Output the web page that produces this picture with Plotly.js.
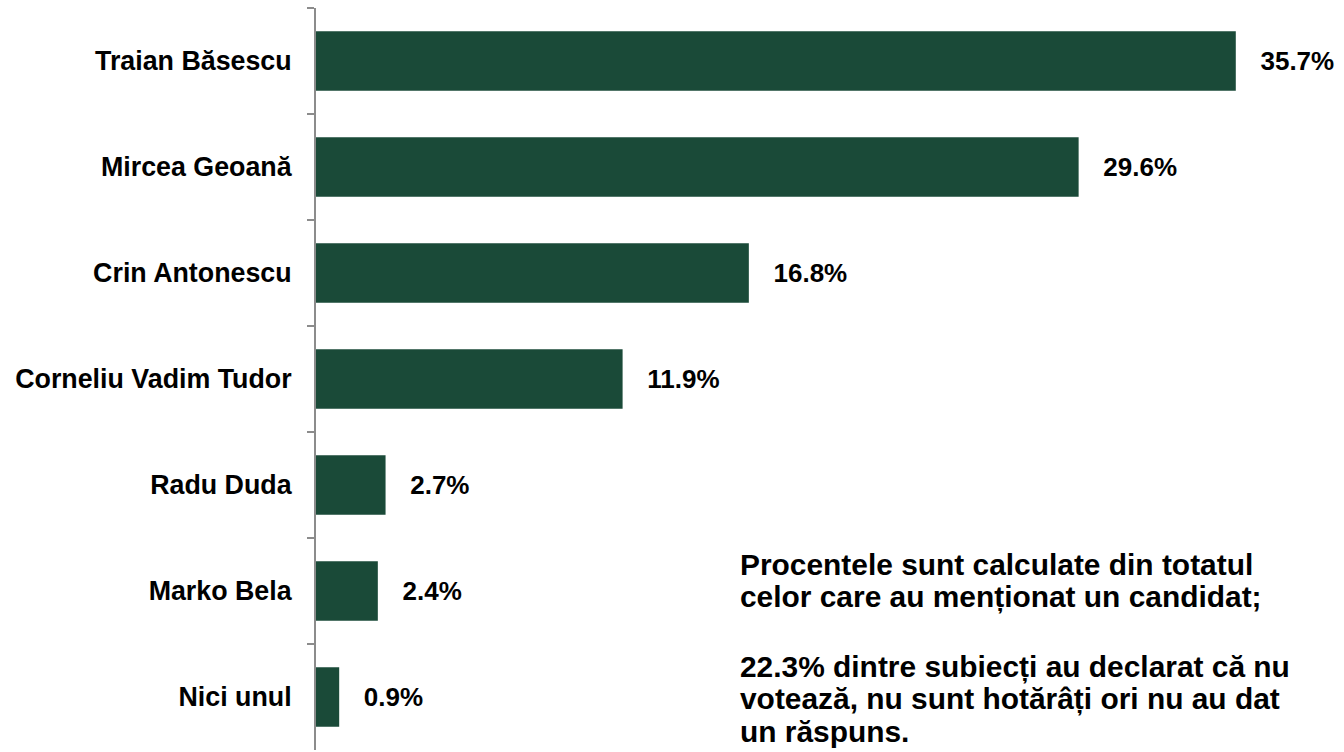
<!DOCTYPE html>
<html>
<head>
<meta charset="utf-8">
<script src="https://cdn.plot.ly/plotly-3.0.1.min.js"></script>
<style>html,body{margin:0;padding:0;background:#fff;}#chart{width:1344px;height:752px;}</style>
</head>
<body>
<div id="chart"></div>
<script>
const candidates = ["Traian Băsescu","Mircea Geoană","Crin Antonescu","Corneliu Vadim Tudor","Radu Duda","Marko Bela","Nici unul"];
const percentages = [35.7, 29.6, 16.8, 11.9, 2.7, 2.4, 0.9];
const noteLines = [
  "Procentele sunt calculate din totatul",
  "celor care au menționat un candidat;",
  "22.3% dintre subiecți au declarat că nu",
  "votează, nu sunt hotărâți ori nu au dat",
  "un răspuns."
];
const noteLineCentersPx = [564, 597, 667, 699, 731];

const FONT = "Liberation Sans, Arial, sans-serif";
const pad = "\u00a0\u00a0\u00a0";

const W = 1344, H = 752, ML = 316, MR = 0, MT = 8, MB = 2;
const pw = W - ML - MR, ph = H - MT - MB;
const pxX = px => (px - ML) / pw;
const pxY = py => (H - MB - py) / ph;

const trace = {
  type: "bar",
  orientation: "h",
  x: percentages,
  y: candidates,
  width: 0.56,
  marker: {color: "#1a4a38"},
  text: percentages.map(v => pad + v.toFixed(1) + "%"),
  textposition: "outside",
  textfont: {family: FONT, size: 26, color: "#000", weight: "bold"},
  cliponaxis: false,
  hoverinfo: "skip"
};

const layout = {
  width: W, height: H,
  margin: {l: ML, r: MR, t: MT, b: MB, pad: 0},
  paper_bgcolor: "#fff", plot_bgcolor: "#fff",
  showlegend: false,
  xaxis: {range: [0, 39.9], visible: false, fixedrange: true},
  yaxis: {
    type: "category",
    categoryorder: "array", categoryarray: candidates,
    autorange: "reversed",
    showline: true, linecolor: "#8c8c8c", linewidth: 2,
    ticks: "outside", ticklen: 7, tickcolor: "#8c8c8c", tickwidth: 2,
    tickson: "boundaries",
    ticklabelstandoff: 17,
    showgrid: false, zeroline: false,
    tickfont: {family: FONT, size: 26.8, color: "#000", weight: "bold"}
  },
  annotations: noteLines.map((t, i) => ({
    xref: "paper", yref: "paper",
    x: pxX(738), y: pxY(noteLineCentersPx[i]),
    xanchor: "left", yanchor: "middle", align: "left",
    showarrow: false,
    text: t,
    font: {family: FONT, size: 29.9, color: "#000", weight: "bold"}
  }))
};

Plotly.newPlot("chart", [trace], layout, {displayModeBar: false, staticPlot: true});
</script>
</body>
</html>
